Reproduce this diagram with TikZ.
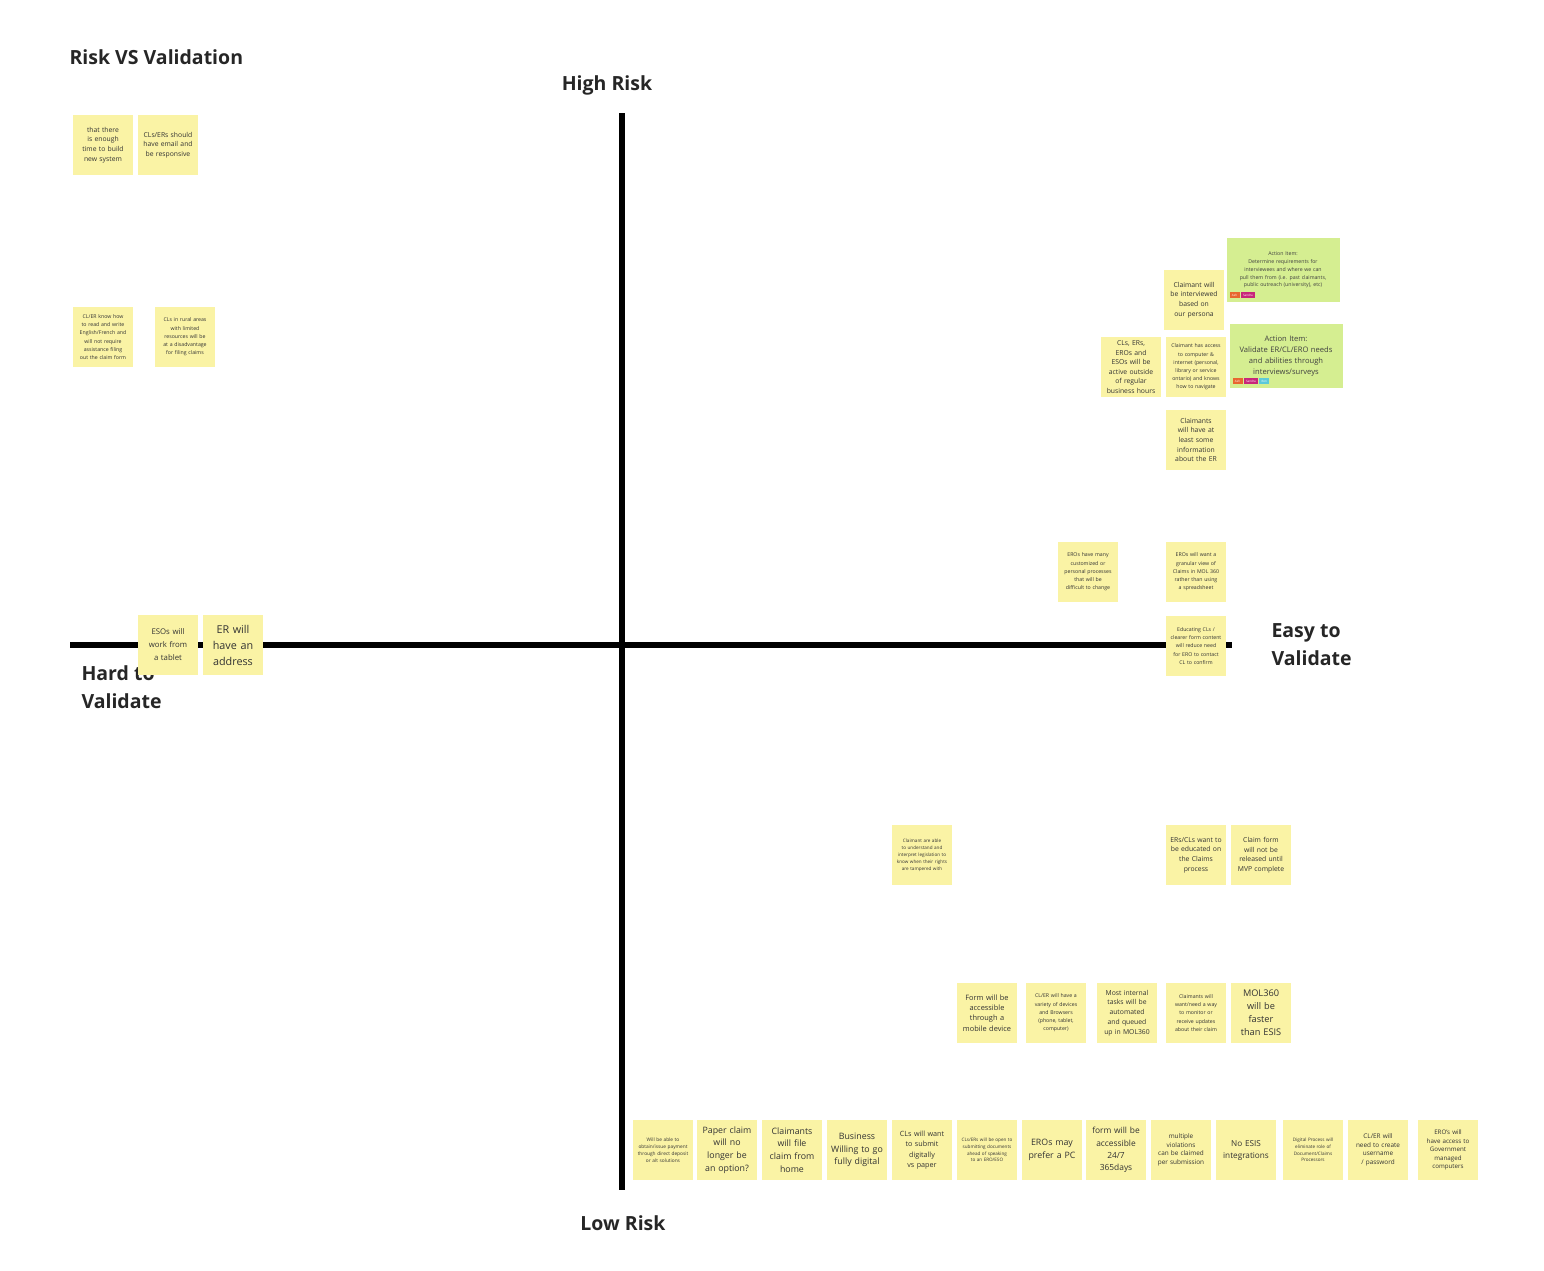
\documentclass[tikz,border=0pt]{standalone}
\usepackage{fontspec}
\setmainfont{Open Sans}
\definecolor{sticky}{HTML}{FAF3A5}
\definecolor{greenn}{HTML}{D5EE91}
\definecolor{tagA}{HTML}{E8662F}
\definecolor{tagB}{HTML}{C8267A}
\definecolor{tagC}{HTML}{5CC9DA}
\tikzset{
 x=1pt,y=-1pt,
 note/.style={fill=sticky,minimum width=60pt,minimum height=60pt,text width=52pt,align=center,inner sep=1pt,text=black!80},
 nbig/.style={note,font=\fontsize{10.5}{13}\selectfont},
 nmed/.style={note,font=\fontsize{7.6}{9.6}\selectfont},
 nsml/.style={note,font=\fontsize{6.8}{9.6}\selectfont},
 ntny/.style={note,font=\fontsize{5.2}{8.2}\selectfont},
 gnote/.style={fill=greenn,minimum width=113pt,minimum height=64pt,text width=100pt,align=center,inner sep=1pt,text=black!75},
 tag/.style={minimum width=10pt,minimum height=6pt,inner sep=0pt,font=\fontsize{3}{3}\selectfont,text=white},
 axis/.style={line width=6pt},
 head/.style={font=\bfseries\fontsize{19.5}{28}\selectfont,text=black!85}
}
\begin{document}
\begin{tikzpicture}
\hyphenpenalty=10000 \exhyphenpenalty=10000
\useasboundingbox (0,0) rectangle (1544,1270);
\coordinate (vt) at (622,113); \coordinate (vb) at (622,1190);
\coordinate (hl) at (70,645); \coordinate (hr) at (1232,645);
\draw[axis] (vt) -- (vb);
\draw[axis] (hl) -- (hr);
\node[head,anchor=west] (title) at (66,57) {Risk VS Validation};
\node[head] (hi) at (607,85) {High Risk};
\node[head] (lo) at (623,1223) {Low Risk};
\node[head,anchor=north west,align=left] (hard) at (78,662) {Hard to\\Validate};
\node[head,anchor=north west,align=left] (easy) at (1268,620) {Easy to\\Validate};
% top-left
\node[nsml] (a1) at (103,145) {that there is enough time to build new system};
\node[nsml] (a2) at (168,145) {CLs/ERs should have email and be responsive};
\node[ntny] (a3) at (103,337) {CL/ER know how to read and write English/French and will not require assistance filing out the claim form};
\node[ntny] (a4) at (185,337) {CLs in rural areas with limited resources will be at a disadvantage for filing claims};
\node[nsml,font=\fontsize{7.8}{13}\selectfont] (a5) at (168,645) {ESOs will work from a tablet};
\node[nbig,font=\fontsize{10.8}{16}\selectfont] (a6) at (233,645) {ER will have an address};
% right upper
\node[nsml] (b1) at (1194,300) {Claimant will be interviewed based on our persona};
\node[nsml] (b2) at (1131,367) {CLs, ERs, EROs and ESOs will be active outside of regular business hours};
\node[ntny] (b3) at (1196,367) {Claimant has access to computer \& internet (personal, library or service ontario) and knows how to navigate};
\node[nsml] (b4) at (1196,440) {Claimants will have at least some information about the ER};
\node[gnote,font=\fontsize{5.2}{7.8}\selectfont] (g1) at (1283,270) {Action Item:\\Determine requirements for interviewees and where we can pull them from (i.e. past claimants, public outreach (university), etc)\\[6pt]};
\node[tag,fill=tagA,anchor=south west] (t1) at ([shift={(3,-4)}]g1.south west) {Ash};
\node[tag,fill=tagB,anchor=west,minimum width=14pt] (t2) at ([xshift=1pt]t1.east) {Sandra};
\node[gnote,font=\fontsize{7.6}{11}\selectfont] (g2) at (1286,356) {Action Item:\\Validate ER/CL/ERO needs and abilities through interviews/surveys\\[4pt]};
\node[tag,fill=tagA,anchor=south west] (t3) at ([shift={(3,-4)}]g2.south west) {Ash};
\node[tag,fill=tagB,anchor=west,minimum width=14pt] (t4) at ([xshift=1pt]t3.east) {Sandra};
\node[tag,fill=tagC,anchor=west] (t5) at ([xshift=1pt]t4.east) {Ron};
\node[ntny] (c1) at (1088,572) {EROs have many customized or personal processes that will be difficult to change};
\node[ntny] (c2) at (1196,572) {EROs will want a granular view of Claims in MOL 360 rather than using a spreadsheet};
\node[ntny] (c3) at (1196,646) {Educating CLs / clearer form content will reduce need for ERO to contact CL to confirm};
% lower right
\node[ntny,font=\fontsize{4.6}{7}\selectfont] (d1) at (922,855) {Claimant are able to understand and interpret legislation to know when their rights are tampered with};
\node[nsml] (d2) at (1196,855) {ERs/CLs want to be educated on the Claims process};
\node[nsml] (d3) at (1261,855) {Claim form will not be released until MVP complete};
\node[nsml,font=\fontsize{7.4}{10.2}\selectfont] (e1) at (987,1013) {Form will be accessible through a mobile device};
\node[ntny] (e2) at (1056,1013) {CL/ER will have a variety of devices and Browsers (phone, tablet, computer)};
\node[nsml,font=\fontsize{6.8}{9.8}\selectfont] (e3) at (1127,1013) {Most internal tasks will be automated and queued up in MOL360};
\node[ntny] (e4) at (1196,1013) {Claimants will want/need a way to monitor or receive updates about their claim};
\node[nbig,font=\fontsize{9.2}{13}\selectfont] (e5) at (1261,1013) {MOL360 will be faster than ESIS};
% bottom row
\node[ntny,font=\fontsize{4.8}{7.2}\selectfont] (f1) at (663,1150) {Will be able to obtain/issue payment through direct deposit or alt solutions};
\node[nbig,font=\fontsize{8.8}{12.8}\selectfont] (f2) at (727,1150) {Paper claim will no longer be an option?};
\node[nbig,font=\fontsize{8.8}{12.8}\selectfont] (f3) at (792,1150) {Claimants will file claim from home};
\node[nbig,font=\fontsize{8.8}{12.8}\selectfont] (f4) at (857,1150) {Business Willing to go fully digital};
\node[nsml,font=\fontsize{7.2}{10.4}\selectfont] (f5) at (922,1150) {CLs will want to submit digitally vs paper};
\node[ntny,font=\fontsize{4.6}{6.6}\selectfont] (f6) at (987,1150) {CLs/ERs will be open to submitting documents ahead of speaking to an ERO/ESO};
\node[nbig,font=\fontsize{8.8}{12.8}\selectfont] (f7) at (1052,1150) {EROs may prefer a PC};
\node[nbig,font=\fontsize{8.4}{12.4}\selectfont] (f8) at (1116,1150) {form will be accessible 24/7 365days};
\node[nsml,font=\fontsize{6.4}{8.6}\selectfont] (f9) at (1181,1150) {multiple violations can be claimed per submission};
\node[nbig,font=\fontsize{8.2}{12}\selectfont] (f10) at (1246,1150) {No ESIS integrations};
\node[ntny,font=\fontsize{4.6}{6.6}\selectfont] (f11) at (1313,1150) {Digital Process will eliminate role of Document/Claims Processors};
\node[nsml,font=\fontsize{6.4}{8.6}\selectfont] (f12) at (1378,1150) {CL/ER will need to create username / password};
\node[nsml,font=\fontsize{6.2}{8.4}\selectfont] (f13) at (1448,1150) {ERO's will have access to Government managed computers};
\end{tikzpicture}
\end{document}
